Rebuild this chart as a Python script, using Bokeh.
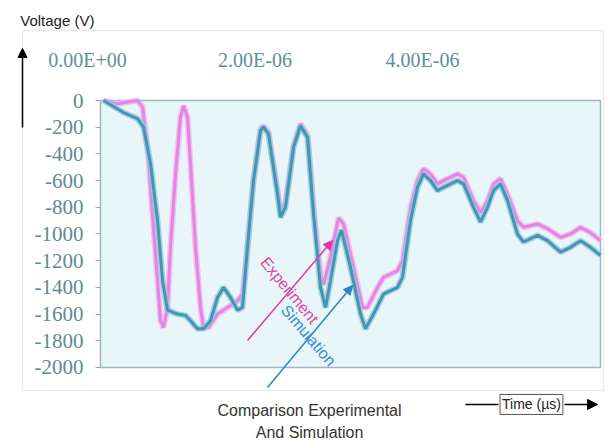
from bokeh.plotting import figure
from bokeh.models import Range1d, FixedTicker, Arrow, NormalHead, Label, BoxAnnotation, LinearAxis
from bokeh.embed import file_html
from bokeh.resources import INLINE

# time in microseconds, voltage in volts
sim_t = [0.191, 0.430, 0.597, 0.669, 0.752, 0.836, 0.896, 0.955, 1.075, 1.170, 1.230, 1.313, 1.385,
         1.469, 1.552, 1.624, 1.707, 1.791, 1.851, 1.910, 1.982, 2.066, 2.101, 2.161, 2.269, 2.304,
         2.364, 2.460, 2.543, 2.627, 2.699, 2.782, 2.842, 2.901, 2.985, 3.033, 3.140, 3.260, 3.319,
         3.415, 3.534, 3.701, 3.761, 3.857, 3.940, 4.012, 4.096, 4.179, 4.251, 4.418, 4.490, 4.609,
         4.693, 4.776, 4.848, 4.931, 5.015, 5.134, 5.206, 5.373, 5.493, 5.648, 5.767, 5.887, 6.006, 6.125]
sim_v = [0, -90, -135, -200, -470, -900, -1350, -1570, -1600, -1610, -1650, -1710, -1710,
         -1650, -1475, -1400, -1475, -1570, -1550, -1100, -600, -225, -200, -250, -700, -875,
         -800, -350, -190, -275, -850, -1400, -1550, -1350, -1050, -970, -1250, -1600, -1710,
         -1600, -1450, -1400, -1325, -900, -650, -550, -600, -675, -650, -600, -625, -800,
         -910, -800, -675, -625, -750, -1000, -1060, -1010, -1050, -1135, -1100, -1050, -1100, -1160]

exp_t = [0.191, 0.358, 0.597, 0.657, 0.716, 0.776, 0.836, 0.872, 0.907, 0.955, 0.991, 1.051, 1.110,
         1.146, 1.194, 1.230, 1.290, 1.349, 1.385, 1.445, 1.552, 1.672, 1.791, 1.851, 1.910, 1.982,
         2.066, 2.101, 2.161, 2.269, 2.304, 2.364, 2.460, 2.543, 2.627, 2.699, 2.782, 2.818, 2.901,
         2.997, 3.057, 3.140, 3.284, 3.343, 3.463, 3.534, 3.701, 3.761, 3.857, 3.940, 4.012, 4.096,
         4.179, 4.251, 4.418, 4.490, 4.609, 4.693, 4.776, 4.848, 4.931, 5.015, 5.134, 5.206, 5.373,
         5.493, 5.648, 5.767, 5.887, 6.006, 6.125]
exp_v = [0, -25, 0, -50, -350, -850, -1350, -1650, -1700, -1550, -1100, -550, -125,
         -40, -125, -475, -1100, -1550, -1700, -1700, -1600, -1550, -1500, -1450, -1100, -600,
         -210, -190, -240, -680, -820, -760, -340, -175, -260, -800, -1300, -1380, -1175,
         -880, -925, -1150, -1550, -1550, -1400, -1325, -1275, -1200, -800, -600, -510, -550,
         -625, -600, -550, -575, -750, -840, -750, -625, -585, -700, -900, -950, -925,
         -960, -1025, -1000, -950, -990, -1050]

top_ticks = [0, 2, 4]
top_labels = ["0.00E+00", "2.00E-06", "4.00E-06"]
y_ticks = [0, -200, -400, -600, -800, -1000, -1200, -1400, -1600, -1800, -2000]
y_labels = ["0", "-200", "-400", "-600", "-800", "-1000", "-1200", "-1400", "-1600", "-1800", "-2000"]

# extent of the plotted window (µs, V)
T0, T1 = 0.155, 6.125
V0, V1 = min(y_ticks), max(y_ticks)

p = figure(width=616, height=441, x_range=Range1d(-1.0388, 6.3164), y_range=Range1d(-2554.4, 749.1),
           x_axis_location=None, y_axis_location=None, output_backend="svg", toolbar_location=None,
           min_border=0)
p.xgrid.visible = False
p.ygrid.visible = False
p.background_fill_color = "white"
p.border_fill_color = "white"
p.outline_line_color = None

# plot window
p.quad(left=[T0], right=[T1], bottom=[V0], top=[V1], fill_color="#e8f5f9",
       line_color="#9ab8c2", line_width=1.5)

xa = LinearAxis(fixed_location=V1, ticker=FixedTicker(ticks=top_ticks))
xa.major_label_overrides = dict(zip(top_ticks, top_labels))
xa.major_label_text_font = "Liberation Serif"
xa.major_label_text_font_size = "20px"
xa.major_label_text_color = "#5d8f99"
xa.major_tick_line_color = None
xa.minor_tick_line_color = None
xa.axis_line_color = None
xa.major_label_standoff = 24
p.add_layout(xa, "above")

ya = LinearAxis(fixed_location=T0, ticker=FixedTicker(ticks=y_ticks), bounds=(V0, V1))
ya.major_label_overrides = dict(zip(y_ticks, y_labels))
ya.major_label_text_font = "Liberation Serif"
ya.major_label_text_font_size = "21px"
ya.major_label_text_color = "#5b8a94"
ya.major_tick_line_color = "#8aaab4"
ya.major_tick_in = 0
ya.major_tick_out = 5
ya.minor_tick_line_color = None
ya.axis_line_color = None
ya.major_label_standoff = 12
p.add_layout(ya, "left")

p.line(exp_t, exp_v, line_color="#f2b4ef", line_width=6, line_alpha=0.8)
p.line(exp_t, exp_v, line_color="#e584e3", line_width=3)
p.line(sim_t, sim_v, line_color="#93cbdc", line_width=6, line_alpha=0.8)
p.line(sim_t, sim_v, line_color="#4495b4", line_width=3)

# series annotations
p.add_layout(Arrow(end=NormalHead(size=9, fill_color="#de3a9e", line_color="#de3a9e"),
                   x_start=1.910, y_start=-1798, x_end=2.925, y_end=-1049,
                   line_color="#de3a9e", line_width=1.5))
p.add_layout(Arrow(end=NormalHead(size=9, fill_color="#2a84c6", line_color="#2a84c6"),
                   x_start=2.149, y_start=-2150, x_end=3.164, y_end=-1386,
                   line_color="#2a84c6", line_width=1.5))
p.add_layout(Label(x=2.412, y=-1423, text="Experiment", angle=-0.88, text_align="center",
                   text_baseline="middle", text_font="Liberation Sans", text_font_size="16px",
                   text_color="#e0489f"))
p.add_layout(Label(x=2.639, y=-1760, text="Simulation", angle=-0.86, text_align="center",
                   text_baseline="middle", text_font="Liberation Sans", text_font_size="16px",
                   text_color="#3a8ecf"))

# scanned frame border
p.add_layout(BoxAnnotation(left=-0.776, right=6.161, top=524, bottom=-2172,
                           fill_alpha=0, line_color="#b8b8b8", line_width=1.2))

# axis titles
p.add_layout(Label(x=-0.36, y=599, text="Voltage (V)", text_align="center", text_baseline="middle",
                   text_font="Liberation Sans", text_font_size="15px", text_color="#222222"))
p.add_layout(Arrow(end=NormalHead(size=9, fill_color="black", line_color="black"),
                   x_start=-0.776, y_start=-202, x_end=-0.776, y_end=390,
                   line_color="black", line_width=1.5))

p.add_layout(Arrow(end=None, x_start=4.513, y_start=-2277, x_end=4.907, y_end=-2277,
                   line_color="black", line_width=1.5))
p.add_layout(Arrow(end=NormalHead(size=10, fill_color="black", line_color="black"),
                   x_start=5.696, y_start=-2277, x_end=6.090, y_end=-2277,
                   line_color="black", line_width=1.5))
p.add_layout(Label(x=5.301, y=-2277, text="Time (µs)", text_align="center", text_baseline="middle",
                   text_font="Liberation Sans", text_font_size="14px", text_color="#222222",
                   border_line_color="#555555", border_line_width=1, background_fill_color="white",
                   padding=2))

p.add_layout(Label(x=2.651, y=-2322, text="Comparison Experimental", text_align="center",
                   text_baseline="middle", text_font="Liberation Sans", text_font_size="16px",
                   text_color="#333333"))
p.add_layout(Label(x=2.651, y=-2487, text="And Simulation", text_align="center",
                   text_baseline="middle", text_font="Liberation Sans", text_font_size="16px",
                   text_color="#333333"))

open("out.html", "w").write(file_html(p, INLINE))
